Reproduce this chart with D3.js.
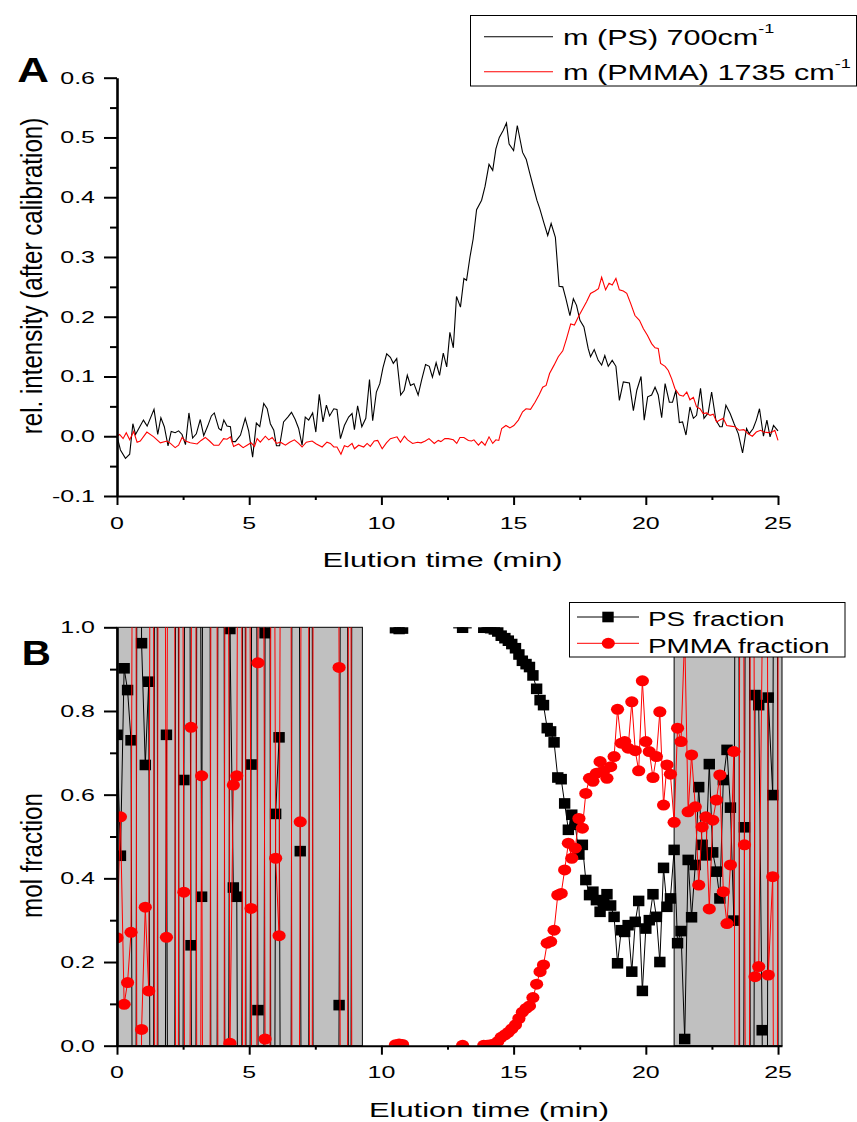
<!DOCTYPE html>
<html>
<head>
<meta charset="utf-8">
<script src="https://cdnjs.cloudflare.com/ajax/libs/d3/7.8.5/d3.min.js"></script>
<style>
body { margin: 0; background: #fff; }
svg { display: block; }
text { font-family: "Liberation Sans", Arial, sans-serif; fill: #000; }
</style>
</head>
<body>
<div id="chart"></div>
<script>
// ---- Panel A: calibrated intensities, [time (min), rel. intensity]
const psIntensity = [[0,0],[0.13,-0.023],[0.32,-0.037],[0.48,-0.03],[0.6,0.021],[0.7,0.003],[1.0,0.027],[1.14,0.017],[1.4,0.045],[1.54,0.003],[1.66,0.031],[1.79,0.016],[1.93,-0.016],[2.05,0.008],[2.2,0.006],[2.33,0.009],[2.46,0.003],[2.59,-0.014],[2.72,0.039],[2.86,-0.003],[3.0,0.004],[3.15,0.028],[3.28,0.001],[3.43,0.017],[3.57,0.034],[3.68,0.039],[3.85,0.013],[3.94,0.01],[4.04,0.027],[4.16,0.017],[4.29,0.016],[4.36,-0.009],[4.48,-0.009],[4.67,0.002],[4.85,0.03],[4.98,0.009],[5.13,-0.035],[5.27,0.022],[5.4,0.016],[5.55,0.055],[5.68,0.046],[5.8,0.021],[5.93,0.01],[6.03,-0.016],[6.15,-0.016],[6.3,0.024],[6.46,0.032],[6.6,0.04],[6.74,0.028],[6.87,0.013],[7.0,-0.015],[7.12,0.032],[7.25,0.027],[7.4,0.039],[7.52,0.007],[7.65,0.07],[7.79,0.024],[7.92,0.052],[8.04,0.034],[8.2,0.046],[8.32,0.045],[8.45,-0.004],[8.6,0.018],[8.76,0.032],[8.89,0.038],[8.98,0.011],[9.1,0.051],[9.26,0.016],[9.41,0.03],[9.55,0.095],[9.67,0.026],[9.81,0.074],[9.94,0.088],[10.06,0.115],[10.2,0.138],[10.34,0.132],[10.45,0.122],[10.58,0.13],[10.73,0.069],[10.86,0.077],[10.98,0.102],[11.1,0.085],[11.23,0.088],[11.39,0.069],[11.52,0.094],[11.67,0.12],[11.81,0.117],[11.93,0.099],[12.07,0.123],[12.2,0.102],[12.34,0.139],[12.47,0.116],[12.59,0.174],[12.72,0.148],[12.84,0.234],[12.99,0.216],[13.12,0.264],[13.22,0.261],[13.35,0.3],[13.47,0.33],[13.6,0.379],[13.79,0.395],[13.92,0.418],[14.07,0.455],[14.21,0.445],[14.33,0.481],[14.46,0.5],[14.61,0.512],[14.73,0.524],[14.83,0.489],[15.0,0.478],[15.14,0.52],[15.34,0.475],[15.48,0.463],[15.6,0.442],[15.73,0.42],[15.88,0.395],[15.99,0.381],[16.14,0.358],[16.29,0.336],[16.42,0.356],[16.58,0.333],[16.72,0.251],[16.86,0.25],[16.98,0.23],[17.13,0.202],[17.26,0.23],[17.38,0.219],[17.51,0.194],[17.66,0.183],[17.82,0.147],[17.91,0.133],[18.05,0.145],[18.2,0.127],[18.33,0.119],[18.45,0.135],[18.58,0.117],[18.73,0.127],[18.87,0.117],[19.0,0.06],[19.15,0.091],[19.38,0.089],[19.53,0.043],[19.66,0.077],[19.82,0.1],[19.94,0.027],[20.07,0.066],[20.22,0.069],[20.35,0.082],[20.47,0.069],[20.6,0.031],[20.73,0.088],[20.89,0.057],[21.01,0.057],[21.14,0.077],[21.27,0.023],[21.39,0.024],[21.52,0.002],[21.67,0.049],[21.8,0.03],[21.92,0.035],[22.07,0.08],[22.2,0.03],[22.36,0.039],[22.49,0.074],[22.65,0.027],[22.8,0.016],[22.89,0.016],[23.03,0.052],[23.19,0.038],[23.34,0.021],[23.5,0.004],[23.66,-0.028],[23.81,0.013],[23.91,0.004],[24.06,0.013],[24.18,0.027],[24.3,0.046],[24.45,0.0],[24.58,0.027],[24.7,-0.001],[24.83,0.018],[25.0,0.009]];

const pmmaIntensity = [[0,0],[0.1,0.003],[0.23,-0.004],[0.35,0.006],[0.48,-0.006],[0.63,0.008],[0.76,-0.01],[0.88,-0.008],[1.13,0.007],[1.39,-0.001],[1.64,-0.011],[1.89,-0.008],[2.02,-0.012],[2.2,-0.019],[2.33,-0.015],[2.46,-0.002],[2.59,-0.008],[2.77,-0.011],[3.03,-0.013],[3.18,-0.007],[3.34,-0.002],[3.5,-0.008],[3.66,-0.015],[3.85,-0.015],[4.03,-0.004],[4.16,-0.005],[4.29,-0.001],[4.41,-0.017],[4.6,-0.013],[4.77,-0.019],[4.92,-0.015],[5.07,-0.011],[5.2,-0.017],[5.3,-0.004],[5.42,-0.01],[5.61,0.0],[5.74,-0.006],[5.87,-0.002],[6.03,-0.012],[6.18,-0.01],[6.37,-0.015],[6.53,-0.01],[6.71,-0.006],[6.87,-0.012],[7.0,-0.018],[7.16,-0.01],[7.38,-0.008],[7.54,-0.013],[7.76,-0.018],[7.94,-0.01],[8.07,-0.012],[8.2,-0.018],[8.32,-0.018],[8.47,-0.03],[8.6,-0.016],[8.73,-0.018],[8.89,-0.012],[8.98,-0.021],[9.14,-0.015],[9.33,-0.018],[9.46,-0.012],[9.58,-0.017],[9.73,-0.008],[9.86,-0.007],[10.03,-0.021],[10.19,-0.011],[10.34,-0.004],[10.59,-0.001],[10.72,-0.01],[10.87,0.0],[10.99,-0.006],[11.18,-0.012],[11.37,-0.01],[11.5,-0.011],[11.66,-0.008],[11.8,-0.004],[12.0,-0.012],[12.15,-0.007],[12.25,-0.009],[12.4,-0.004],[12.53,-0.004],[12.72,-0.006],[12.85,-0.012],[12.97,-0.002],[13.12,-0.002],[13.29,-0.007],[13.41,-0.008],[13.5,-0.006],[13.67,-0.015],[13.79,-0.009],[13.92,-0.015],[14.07,-0.001],[14.21,-0.012],[14.33,-0.006],[14.44,-0.007],[14.55,0.013],[14.71,0.018],[14.86,0.014],[15.01,0.018],[15.18,0.027],[15.34,0.041],[15.47,0.046],[15.64,0.045],[15.81,0.057],[15.97,0.07],[16.1,0.082],[16.23,0.085],[16.36,0.105],[16.53,0.119],[16.69,0.133],[16.86,0.143],[17.0,0.163],[17.16,0.188],[17.3,0.186],[17.45,0.2],[17.61,0.213],[17.76,0.225],[17.91,0.239],[18.08,0.243],[18.21,0.247],[18.33,0.266],[18.48,0.245],[18.61,0.256],[18.73,0.253],[18.87,0.264],[19.0,0.245],[19.15,0.243],[19.28,0.239],[19.43,0.222],[19.59,0.202],[19.76,0.194],[19.91,0.18],[20.06,0.169],[20.22,0.155],[20.35,0.148],[20.47,0.147],[20.56,0.122],[20.73,0.117],[20.85,0.11],[20.98,0.096],[21.1,0.08],[21.27,0.069],[21.42,0.067],[21.55,0.074],[21.67,0.061],[21.8,0.065],[21.92,0.049],[22.05,0.046],[22.17,0.038],[22.3,0.039],[22.43,0.035],[22.55,0.037],[22.68,0.024],[22.8,0.027],[22.93,0.03],[23.06,0.018],[23.21,0.017],[23.37,0.016],[23.53,0.01],[23.71,0.011],[23.87,0.004],[24.03,0.0],[24.18,0.007],[24.34,0.01],[24.46,0.007],[24.63,0.006],[24.78,0.007],[24.88,0.01],[25.0,-0.007]];

// ---- Panel B: mol fractions (values outside 0..1 run off the plot and are clipped)
const fracTime = [0,0.13,0.27,0.4,0.53,0.67,0.8,0.93,1.07,1.2,1.33,1.47,1.6,1.73,1.87,2.0,2.13,2.27,2.4,2.53,2.67,2.8,2.93,3.07,3.2,3.33,3.47,3.6,3.73,3.87,4.0,4.13,4.27,4.4,4.53,4.67,4.8,4.93,5.07,5.2,5.33,5.47,5.6,5.73,5.87,6.0,6.13,6.27,6.4,6.53,6.67,6.8,6.93,7.07,7.2,7.33,7.47,7.6,7.73,7.87,8.0,8.13,8.27,8.4,8.53,8.67,8.8,8.93,9.07,9.2,9.33,
  9.6,10.0,10.4,10.53,10.67,10.8,10.93,11.47,12.13,12.67,12.93,13.07,13.2,13.6,13.87,14.0,14.13,14.27,
  14.4,14.53,14.67,14.8,14.93,15.07,15.2,15.33,15.47,15.6,15.73,15.87,16.0,16.13,16.27,16.4,16.53,16.67,16.8,16.93,17.07,17.2,17.33,17.47,17.6,17.73,17.87,18.0,18.13,18.27,18.4,18.53,18.67,18.8,18.93,19.07,19.2,19.33,19.47,19.6,19.73,19.87,20.0,20.13,20.27,20.4,20.53,20.67,20.8,20.93,21.07,21.2,21.33,21.47,21.6,21.73,21.87,22.0,22.13,22.27,22.4,22.53,22.67,22.8,22.93,23.07,23.2,23.33,23.47,23.6,23.73,23.87,24.0,24.13,24.27,24.4,24.53,24.63,24.8,24.93,25.05];

const psFraction = [0.743,0.454,0.902,0.85,0.73, -2,3,0.962,0.671,0.87, -2,3,-2,-2,0.743, -2,-2,3,-2,0.635, 3,0.24,-2,3,0.356, 3,3,-2,-2,3, 3,-2,0.996,0.378,0.356, -2,3,-2,0.672,3, 0.085,-2,0.986,3,-2, 0.554,0.737,-2,-2,-2, 3,3,0.465,-2,-2, 3,-2,-2,-2,-2, -2,-2,-2,0.097,3, 3,-2,3,3,3, 3,
  1.3,1.15,1.03,0.998,0.996,0.997,1.02,1.1,1.08,1.04,1.01,0.999,1.01,1.02,0.999,0.999,0.998,0.995,
  0.99,0.98,0.974,0.968,0.96,0.95,0.935,0.92,0.912,0.905,0.885,0.853,0.826,0.814,0.759,0.751,0.725,0.641,0.637,0.579,0.516,0.552,0.528,0.457,0.48,0.396,0.36,0.368,0.348,0.32,0.344,0.362,0.335,0.308,0.197,0.276,0.272,0.288,0.177,0.296,0.346,0.131,0.28,0.3,0.362,0.308,0.2,0.425,0.332,0.352,0.468,0.245,0.274,0.016,0.444,0.307,0.432,0.618,0.48,0.455,0.673,0.462,0.416,0.352,0.635,0.707,0.569,0.299,3,-2,0.522,3,-2,0.838,0.814,0.037,-2,0.832,0.599,3,-2];

const pmmaFraction = [0.258,0.547,0.099,0.151,0.271, 3,-2,0.039,0.331,0.131, 3,-2,3,3,0.259, 3,3,-2,3,0.367, -2,0.761,3,-2,0.645, -2,-2,3,3,-2, -2,3,0.006,0.623,0.645, 3,-2,3,0.328,-2, 0.915,3,0.016,-2,3, 0.448,0.263,3,3,3, -2,-2,0.535,3,3, -2,3,3,3,3, 3,3,3,0.904,-2, -2,3,-2,-2,-2, -2,
  -0.3,-0.15,-0.03,0.002,0.004,0.003,-0.02,-0.1,-0.08,-0.04,-0.01,0.001,-0.01,-0.02,0.001,0.001,0.002,0.004,
  0.01,0.02,0.026,0.032,0.04,0.05,0.065,0.08,0.089,0.095,0.115,0.147,0.177,0.193,0.245,0.249,0.276,0.36,0.364,0.42,0.484,0.448,0.472,0.543,0.52,0.603,0.639,0.632,0.651,0.679,0.656,0.639,0.667,0.691,0.804,0.723,0.727,0.711,0.822,0.705,0.657,0.872,0.727,0.703,0.641,0.691,0.798,0.575,0.671,0.649,0.534,0.759,0.727,0.984,0.559,0.695,0.571,0.384,0.523,0.547,0.327,0.539,0.587,0.647,0.368,0.292,0.432,0.703,-2,3,0.48,-2,3,0.165,0.189,0.963,3,0.169,0.404,-2,3];

// shaded (unreliable) time ranges in panel B
const shadedRanges = [[0, 9.28], [21.07, 25.15]];

// axis ticks
const timeTicks = [0, 5, 10, 15, 20, 25];
const timeMinor = [2.5, 7.5, 12.5, 17.5, 22.5];
const intensityTicks = [-0.1, 0, 0.1, 0.2, 0.3, 0.4, 0.5, 0.6];
const intensityLabels = ["-0.1", "0.0", "0.1", "0.2", "0.3", "0.4", "0.5", "0.6"];
const intensityMinor = [-0.05, 0.05, 0.15, 0.25, 0.35, 0.45, 0.55];
const fracTicks = [0, 0.2, 0.4, 0.6, 0.8, 1.0];
const fracLabels = ["0.0", "0.2", "0.4", "0.6", "0.8", "1.0"];
const fracMinor = [0.1, 0.3, 0.5, 0.7, 0.9];

const W = 857, H = 1122;
const svg = d3.select("#chart").append("svg").attr("width", W).attr("height", H);

const xA = d3.scaleLinear().domain([0, 25]).range([117, 778]);
const yA = d3.scaleLinear().domain([-0.1, 0.6]).range([496, 77.7]);
const xB = d3.scaleLinear().domain([0, 25.15]).range([117, 782]);
const yB = d3.scaleLinear().domain([0, 1]).range([1045.7, 627.3]);

// text with a horizontal stretch (the original fonts render wide)
function label(g, str, x, y, size, sx, anchor, weight) {
    return g.append("text")
        .attr("transform", `translate(${x},${y}) scale(${sx},1)`)
        .attr("font-size", size)
        .attr("text-anchor", anchor || "start")
        .attr("font-weight", weight || "normal")
        .text(str);
}

function vlabel(g, str, x, y, size) {
    return g.append("text")
        .attr("transform", `translate(${x},${y}) rotate(-90) scale(1.15,1.42)`)
        .attr("font-size", size)
        .attr("text-anchor", "middle")
        .text(str);
}

function drawAxes(g, x, y, yMajor, yLabels, yMinor, xLabelY) {
    const x0 = x.range()[0], y0 = y.range()[0];
    // minor ticks first
    g.append("g").attr("transform", `translate(${x0},0)`)
        .call(d3.axisLeft(y).tickValues(yMinor).tickSize(7).tickFormat(""))
        .call(a => a.select(".domain").remove());
    g.append("g").attr("transform", `translate(0,${y0})`)
        .call(d3.axisBottom(x).tickValues(timeMinor).tickSize(4).tickFormat(""))
        .call(a => a.select(".domain").remove());
    const ya = g.append("g").attr("transform", `translate(${x0},0)`)
        .call(d3.axisLeft(y).tickValues(yMajor).tickSize(13).tickSizeOuter(0).tickFormat(""));
    ya.select(".domain").attr("stroke-width", 2.6);
    const xa = g.append("g").attr("transform", `translate(0,${y0})`)
        .call(d3.axisBottom(x).tickValues(timeTicks).tickSize(9).tickSizeOuter(0).tickFormat(""));
    xa.select(".domain").attr("stroke-width", 2);
    g.selectAll(".tick line").attr("stroke-width", 2);

    yMajor.forEach((v, i) => label(g, yLabels[i], x0 - 22, y(v) + 6, 17, 1.47, "end"));
    timeTicks.forEach(t => label(g, String(t), x(t), xLabelY, 17, 1.47, "middle"));
}

// ================= Panel A =================
const gA = svg.append("g");
const lineA = d3.line().x(d => xA(d[0])).y(d => yA(d[1]));
gA.append("path").datum(psIntensity).attr("d", lineA)
    .attr("fill", "none").attr("stroke", "#000").attr("stroke-width", 1.1);
gA.append("path").datum(pmmaIntensity).attr("d", lineA)
    .attr("fill", "none").attr("stroke", "#ff0000").attr("stroke-width", 1.1);

drawAxes(gA, xA, yA, intensityTicks, intensityLabels, intensityMinor, 529);
label(gA, "Elution time (min)", 442.5, 566.5, 21, 1.47, "middle");
vlabel(gA, "rel. intensity (after calibration)", 42, 276, 21);
label(gA, "A", 17.3, 81.7, 36, 1.22, "start", "bold");

// legend A
const legA = svg.append("g");
legA.append("rect").attr("x", 470.5).attr("y", 15.5).attr("width", 386).attr("height", 70.5)
    .attr("fill", "#fff").attr("stroke", "#000").attr("stroke-width", 1);
legA.append("line").attr("x1", 484).attr("x2", 553).attr("y1", 36.7).attr("y2", 36.7)
    .attr("stroke", "#000").attr("stroke-width", 1.1);
legA.append("line").attr("x1", 484).attr("x2", 553).attr("y1", 71.7).attr("y2", 71.7)
    .attr("stroke", "#ff0000").attr("stroke-width", 1.1);
const la1 = label(legA, "", 563, 45, 22, 1.39);
la1.append("tspan").text("m (PS) 700cm");
la1.append("tspan").attr("font-size", 13).attr("dy", -12).text("-1");
const la2 = label(legA, "", 563, 80, 22, 1.39);
la2.append("tspan").text("m (PMMA) 1735 cm");
la2.append("tspan").attr("font-size", 13).attr("dy", -12).text("-1");

// ================= Panel B =================
const gB = svg.append("g");
svg.append("defs").append("clipPath").attr("id", "clipB").append("rect")
    .attr("x", xB(0)).attr("y", yB(1)).attr("width", xB(25.15) - xB(0)).attr("height", yB(0) - yB(1));

gB.selectAll("rect.shade").data(shadedRanges).join("rect").attr("class", "shade")
    .attr("x", d => xB(d[0])).attr("y", yB(1))
    .attr("width", d => xB(d[1]) - xB(d[0])).attr("height", yB(0) - yB(1))
    .attr("fill", "#c0c0c0").attr("stroke", "#000").attr("stroke-width", 1);

const plotB = gB.append("g").attr("clip-path", "url(#clipB)");
const psPts = fracTime.map((t, i) => [t, psFraction[i]]);
const pmmaPts = fracTime.map((t, i) => [t, pmmaFraction[i]]);
const lineB = d3.line().x(d => xB(d[0])).y(d => yB(d[1]));

plotB.append("path").datum(psPts).attr("d", lineB)
    .attr("fill", "none").attr("stroke", "#000").attr("stroke-width", 1);
plotB.selectAll("rect.ps").data(psPts.filter(d => d[1] > -0.05 && d[1] < 1.05)).join("rect")
    .attr("class", "ps")
    .attr("x", d => xB(d[0]) - 5.7).attr("y", d => yB(d[1]) - 5.3)
    .attr("width", 11.4).attr("height", 10.6).attr("fill", "#000");
plotB.append("path").datum(pmmaPts).attr("d", lineB)
    .attr("fill", "none").attr("stroke", "#ff0000").attr("stroke-width", 1);
plotB.selectAll("ellipse.pm").data(pmmaPts.filter(d => d[1] > -0.05 && d[1] < 1.05)).join("ellipse")
    .attr("class", "pm")
    .attr("cx", d => xB(d[0])).attr("cy", d => yB(d[1]))
    .attr("rx", 6.6).attr("ry", 5.5).attr("fill", "#ff0000");

drawAxes(gB, xB, yB, fracTicks, fracLabels, fracMinor, 1078);
label(gB, "Elution time (min)", 489, 1116.5, 21, 1.47, "middle");
vlabel(gB, "mol fraction", 42, 855.5, 21);
label(gB, "B", 21.7, 665, 36, 1.12, "start", "bold");

// legend B
const legB = svg.append("g");
legB.append("rect").attr("x", 569.5).attr("y", 602.5).attr("width", 275.5).attr("height", 54.5)
    .attr("fill", "#fff").attr("stroke", "#000").attr("stroke-width", 1);
legB.append("line").attr("x1", 577).attr("x2", 639).attr("y1", 617).attr("y2", 617)
    .attr("stroke", "#000").attr("stroke-width", 1);
legB.append("rect").attr("x", 608 - 5.7).attr("y", 617 - 5.3).attr("width", 11.4).attr("height", 10.6).attr("fill", "#000");
legB.append("line").attr("x1", 577).attr("x2", 639).attr("y1", 643.3).attr("y2", 643.3)
    .attr("stroke", "#ff0000").attr("stroke-width", 1);
legB.append("ellipse").attr("cx", 608.3).attr("cy", 643.3).attr("rx", 6.6).attr("ry", 5.5).attr("fill", "#ff0000");
label(legB, "PS fraction", 648, 625.5, 21, 1.33);
label(legB, "PMMA fraction", 648, 652.5, 21, 1.33);
</script>
</body>
</html>
